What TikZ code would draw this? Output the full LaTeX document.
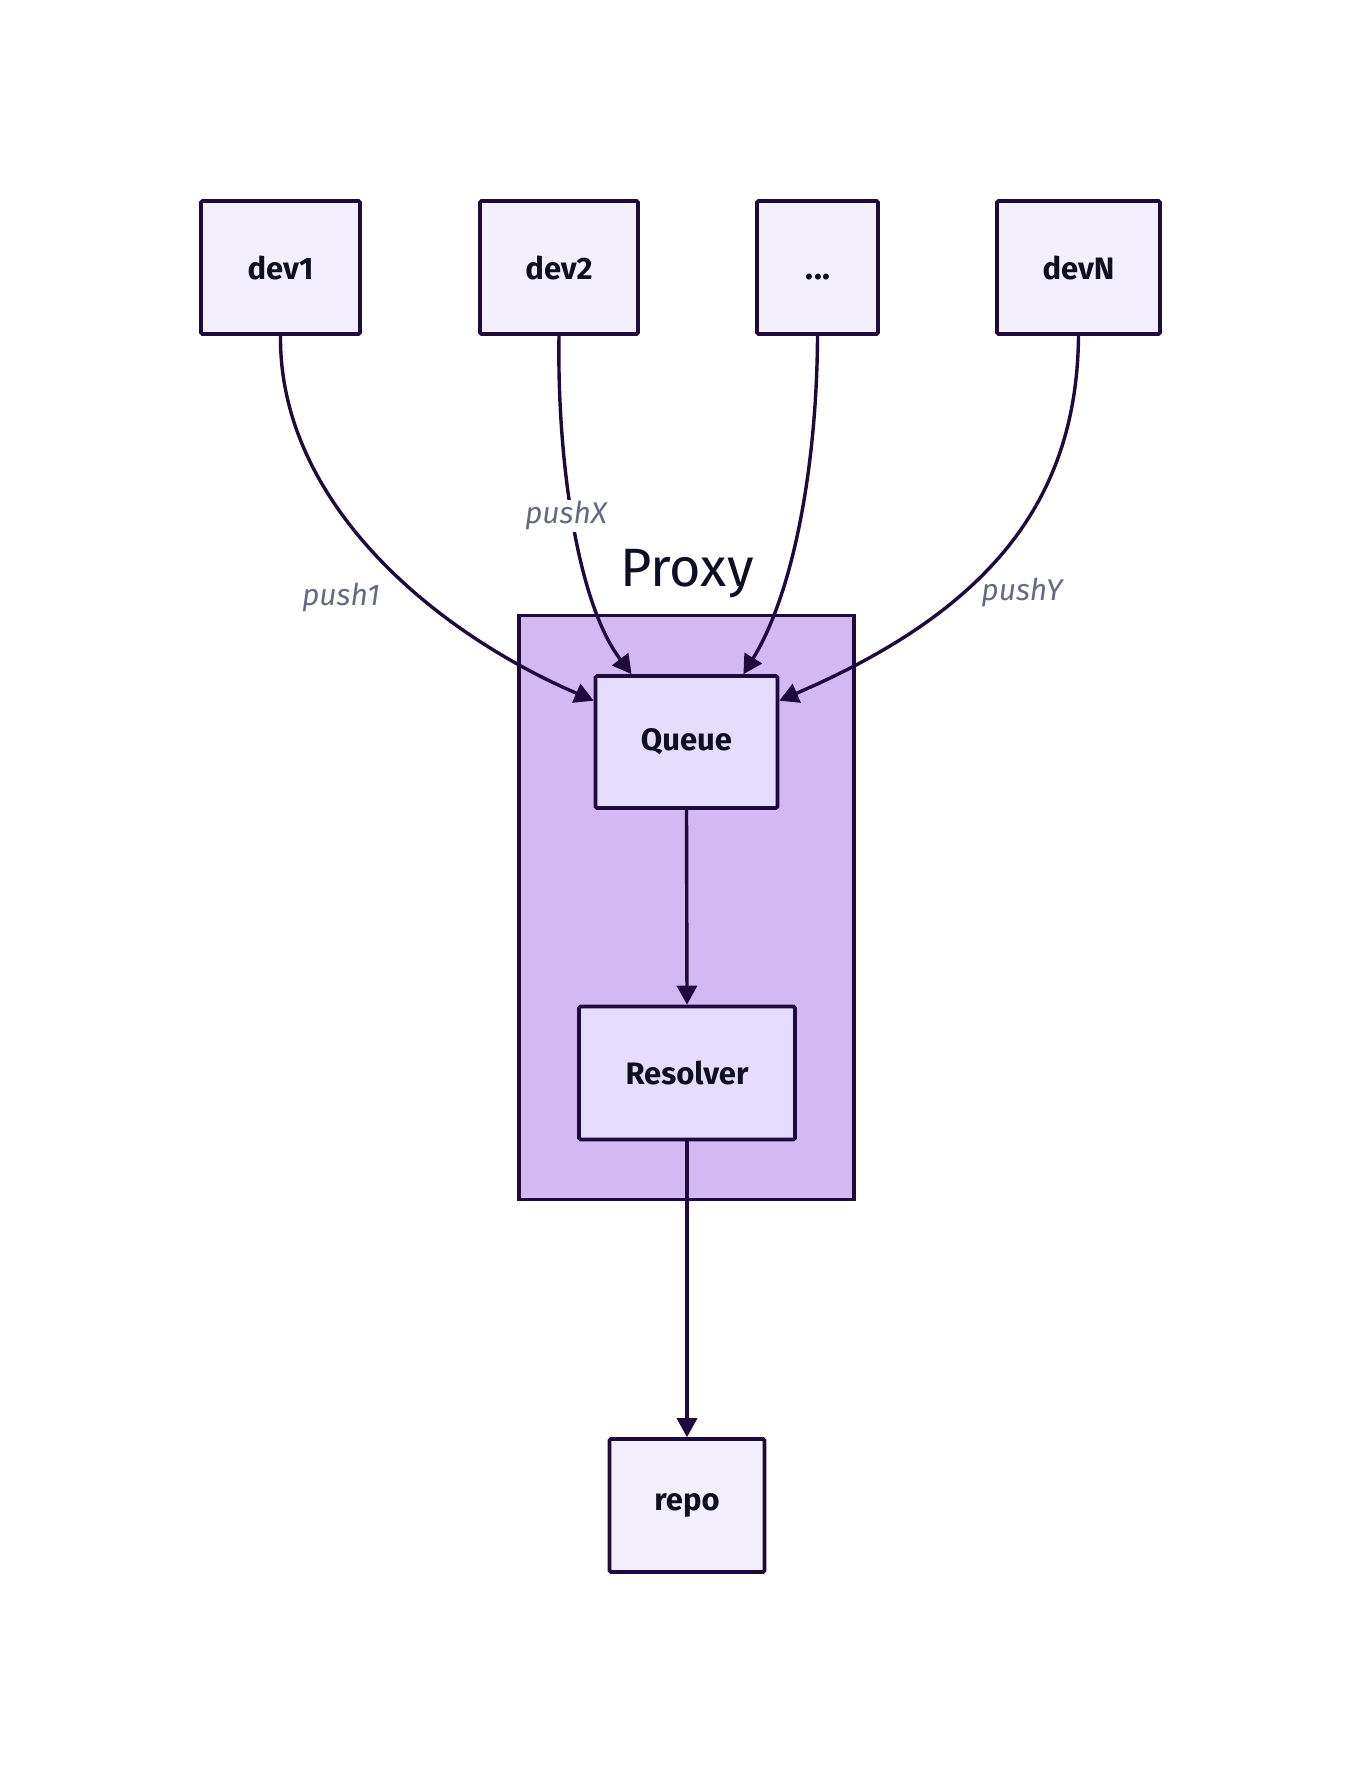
\documentclass[tikz,border=0pt]{standalone}
\usepackage{fontspec}
\setmainfont{Fira Sans}
\usetikzlibrary{arrows.meta}
\definecolor{edgeink}{HTML}{1E0A3C}
\definecolor{textink}{HTML}{0F0F23}
\definecolor{devfill}{HTML}{F3EFFD}
\definecolor{innerfill}{HTML}{E6DCFD}
\definecolor{clusterfill}{HTML}{D2B9F3}
\definecolor{labelgrey}{HTML}{646B80}
\tikzset{
  devbox/.style={draw=edgeink, line width=3.6pt, fill=devfill, rounded corners=1.5pt,
    inner sep=0pt, text=textink, font=\fontsize{31}{34}\selectfont\bfseries},
  procbox/.style={devbox, fill=innerfill},
  flow/.style={draw=edgeink, line width=3.4pt, -{Triangle[length=19pt,width=20pt]}},
  edgelabel/.style={text=labelgrey, font=\fontsize{30}{34}\selectfont\itshape, inner sep=2pt}
}
\begin{document}
\begin{tikzpicture}[x=1pt,y=-1pt]
\useasboundingbox[fill=white] (0,0) rectangle (1362,1774);

% Proxy cluster
\node[draw=edgeink, line width=3.4pt, fill=clusterfill, minimum width=335pt, minimum height=584pt,
  inner sep=0pt] (proxy) at (686.5,907.5) {};
\node[text=textink, font=\fontsize{54}{58}\selectfont] (proxylabel) at (687,574) {Proxy};

% developer nodes
\node[devbox, minimum width=159pt, minimum height=133pt] (dev1) at (280.5,267.5) {dev1};
\node[devbox, minimum width=158pt, minimum height=133pt] (dev2) at (559,267.5) {dev2};
\node[devbox, minimum width=121pt, minimum height=133pt] (devdots) at (817.5,267.5) {};
\node[text=textink, font=\fontsize{33}{36}\selectfont\bfseries, anchor=base] (dots) at (818,279) {{.}\kern1pt{.}\kern1pt{.}};
\node[devbox, minimum width=163pt, minimum height=133pt] (devN) at (1078.5,267.5) {devN};

% proxy internals and target
\node[procbox, minimum width=182pt, minimum height=132pt] (queue) at (686.5,742) {Queue};
\node[procbox, minimum width=216pt, minimum height=133pt] (resolver) at (687,1073) {Resolver};
\node[devbox, minimum width=155pt, minimum height=133pt] (repo) at (687,1505.5) {repo};

% pushes into the queue
\draw[flow] (dev1.south) .. controls (279,500) and (430,630) .. (queue.156);
\draw[flow] (dev2.south) .. controls (557,450) and (575,600) .. (queue.129);
\draw[flow] (devdots.south) .. controls (817,460) and (795,590) .. (queue.50);
\draw[flow] (devN.south) .. controls (1077,500) and (990,610) .. (queue.24);

\node[edgelabel] (l1) at (341,598) {push1};
\node[edgelabel, fill=white] (lx) at (566,516) {pushX};
\node[edgelabel] (ly) at (1022,593) {pushY};

% queue to resolver to repo
\draw[flow] (queue.south) -- (resolver.north);
\draw[flow] (resolver.south) -- (repo.north);
\end{tikzpicture}
\end{document}
